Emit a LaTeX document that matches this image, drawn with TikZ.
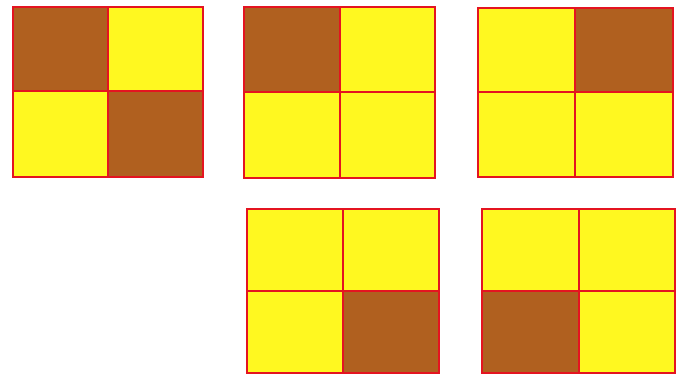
\documentclass[tikz,border=0pt]{standalone}
\usepackage{tikz}
\usetikzlibrary{calc}
\usepackage{xcolor}
\definecolor{tileyellow}{HTML}{FFF820}
\definecolor{tilebrown}{HTML}{B0601F}
\definecolor{gridred}{HTML}{E41420}

\begin{document}
\begin{tikzpicture}[x=1pt,y=-1pt]
      \useasboundingbox (0,0) rectangle (677,373);
      % Five 2x2 tile boards: name / left / middle / right / top / centre / bottom / dark cells
      \foreach \g/\l/\m/\r/\t/\c/\b/\dk in {
          a/13/108/203/7/91/177/{lt/mc,mc/rb},
          b/244/340/435/7/92/178/{lt/mc},
          c/478/575/673/8/92/177/{mt/rc},
          d/247/343/439/209/291/373/{mc/rb},
          e/482/579/675/209/291/373/{lc/mb}}{
        \coordinate (\g-lt) at (\l,\t);
        \coordinate (\g-mt) at (\m,\t);
        \coordinate (\g-lc) at (\l,\c);
        \coordinate (\g-mc) at (\m,\c);
        \coordinate (\g-rc) at (\r,\c);
        \coordinate (\g-mb) at (\m,\b);
        \coordinate (\g-rb) at (\r,\b);
        % Background tiles
        \fill[tileyellow] (\g-lt) rectangle (\g-rb);
        % Dark tiles
        \foreach \p/\q in \dk{
          \fill[tilebrown] (\g-\p) rectangle (\g-\q);
        }
        % Red frame and dividers
        \draw[gridred, line width=1.8pt] (\g-lt) rectangle (\g-rb);
        \draw[gridred, line width=1.8pt] (\g-mt) -- (\g-mb) (\g-lc) -- (\g-rc);
      }
    \end{tikzpicture}
\end{document}
